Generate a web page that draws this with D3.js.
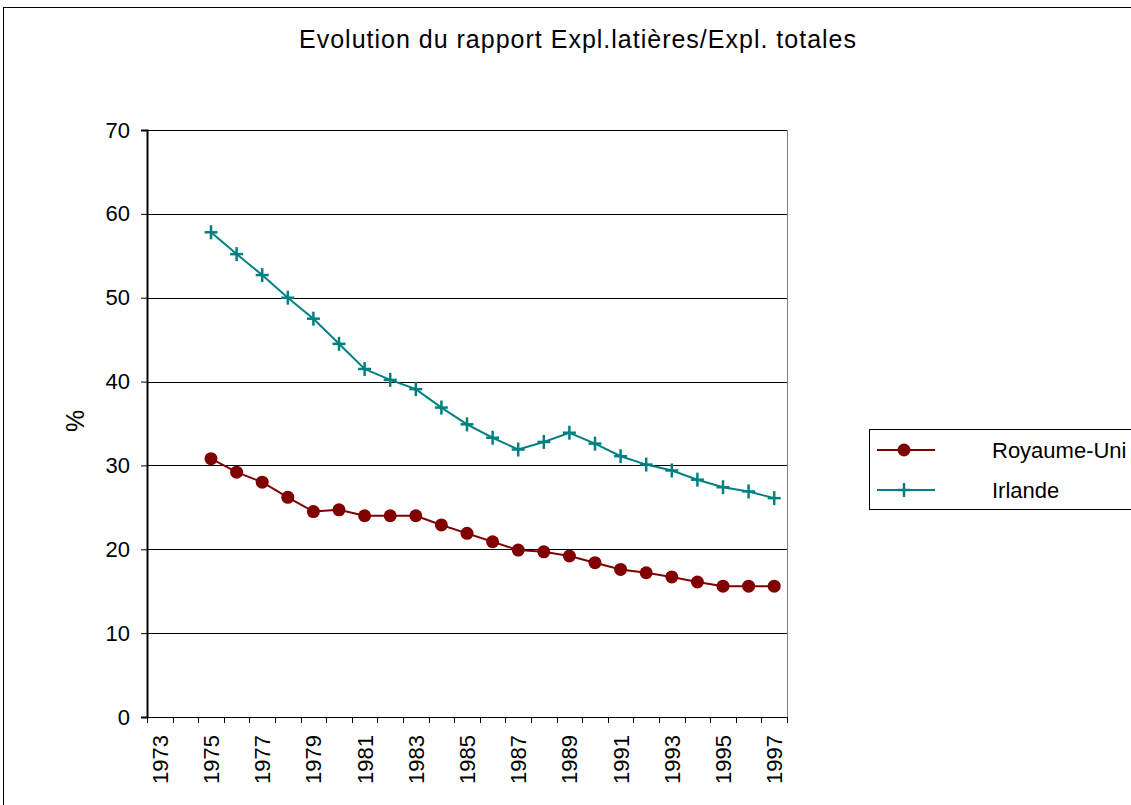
<!DOCTYPE html>
<html>
<head>
<meta charset="utf-8">
<style>
body { margin: 0; background: #fff; }
svg { font-family: "Liberation Sans", Arial, sans-serif; }
.grid line { stroke: #000; stroke-width: 1; }
</style>
</head>
<body>
<svg width="1131" height="805"></svg>
<script src="https://d3js.org/d3.v7.min.js"></script>
<script>

// data
var years = d3.range(1973, 1998);
var dataYears = d3.range(1975, 1998);
var royaumeUni = [30.8, 29.2, 28.0, 26.2, 24.5, 24.7, 24.0, 24.0, 24.0, 22.9, 21.9,
                  20.9, 19.9, 19.7, 19.2, 18.4, 17.6, 17.2, 16.7, 16.1, 15.6, 15.6, 15.6];
var irlande = [57.8, 55.2, 52.7, 50.0, 47.5, 44.5, 41.5, 40.2, 39.1, 36.9, 34.9,
               33.3, 31.9, 32.8, 33.9, 32.6, 31.1, 30.1, 29.4, 28.3, 27.4, 26.9, 26.1];
var yTicks = [0, 10, 20, 30, 40, 50, 60, 70];
var seriesNames = ["Royaume-Uni", "Irlande"];

var svg = d3.select("svg"),
    margin = {top: 130, left: 147, right: 344, bottom: 88},
    width = 1131 - margin.left - margin.right,
    height = 805 - margin.top - margin.bottom;

// outer chart border
svg.append("rect")
  .attr("x", 3.5).attr("y", 7.5)
  .attr("width", 1140).attr("height", 820)
  .attr("fill", "none").attr("stroke", "#000").attr("stroke-width", 1);

svg.append("text")
  .attr("x", 578).attr("y", 48)
  .attr("text-anchor", "middle")
  .attr("font-size", 25)
  .attr("letter-spacing", 1)
  .text("Evolution du rapport Expl.latières/Expl. totales");

var x = d3.scaleBand().domain(years).range([0, width]);
var y = d3.scaleLinear().domain([0, 70]).range([height, 0]);

var g = svg.append("g")
  .attr("transform", "translate(" + margin.left + "," + margin.top + ")");

// gridlines
g.append("g").attr("class", "grid")
  .selectAll("line")
  .data(yTicks.filter(function(d) { return d > 0; }))
  .enter().append("line")
  .attr("x1", 0).attr("x2", width)
  .attr("y1", function(d) { return Math.round(y(d)) + 0.5; })
  .attr("y2", function(d) { return Math.round(y(d)) + 0.5; });

// right border of plot
g.append("line")
  .attr("x1", width + 0.5).attr("x2", width + 0.5)
  .attr("y1", 0).attr("y2", height)
  .attr("stroke", "#808080");

// y axis
var gy = g.append("g")
  .call(d3.axisLeft(y).tickValues(yTicks).tickSize(6).tickPadding(11));
gy.select(".domain").attr("stroke-width", 2);
gy.selectAll("text").attr("font-size", 22).attr("font-family", "Liberation Sans, Arial, sans-serif").attr("fill", "#000");

// x axis: ticks on band boundaries, labels on odd years
var gx = g.append("g").attr("transform", "translate(0," + height + ")");
gx.append("line")
  .attr("x1", 0).attr("x2", width).attr("y1", 0.5).attr("y2", 0.5)
  .attr("stroke", "#000");
gx.selectAll(".tk")
  .data(years.concat([1998]))
  .enter().append("line")
  .attr("x1", function(d) { return Math.round(d === 1998 ? width : x(d)) + 0.5; })
  .attr("x2", function(d) { return Math.round(d === 1998 ? width : x(d)) + 0.5; })
  .attr("y1", 0).attr("y2", 6)
  .attr("stroke", "#000");
gx.selectAll(".lbl")
  .data(years.filter(function(d) { return d % 2 === 1; }))
  .enter().append("text")
  .attr("transform", function(d) {
    return "translate(" + (x(d) + x.bandwidth() / 2 + 8) + ",18) rotate(-90)";
  })
  .attr("text-anchor", "end")
  .attr("font-size", 22)
  .text(function(d) { return d; });

// y axis title
svg.append("text")
  .attr("transform", "translate(84,421) rotate(-90)")
  .attr("text-anchor", "middle")
  .attr("font-size", 25)
  .text("%");

var line = d3.line()
  .x(function(d, i) { return x(dataYears[i]) + x.bandwidth() / 2; })
  .y(function(d) { return y(d); });

function plus(sel, color) {
  sel.append("line").attr("x1", -6.5).attr("x2", 6.5).attr("y1", 0).attr("y2", 0)
    .attr("stroke", color).attr("stroke-width", 2.5);
  sel.append("line").attr("x1", 0).attr("x2", 0).attr("y1", -7).attr("y2", 7)
    .attr("stroke", color).attr("stroke-width", 2.5);
}

// Irlande
g.append("path").datum(irlande)
  .attr("d", line).attr("fill", "none")
  .attr("stroke", "#008080").attr("stroke-width", 2);
g.selectAll(".irl").data(irlande).enter().append("g")
  .attr("transform", function(d, i) {
    return "translate(" + (x(dataYears[i]) + x.bandwidth() / 2) + "," + y(d) + ")";
  })
  .call(plus, "#008080");

// Royaume-Uni
g.append("path").datum(royaumeUni)
  .attr("d", line).attr("fill", "none")
  .attr("stroke", "#800000").attr("stroke-width", 2);
g.selectAll(".ru").data(royaumeUni).enter().append("circle")
  .attr("cx", function(d, i) { return x(dataYears[i]) + x.bandwidth() / 2; })
  .attr("cy", function(d) { return y(d); })
  .attr("r", 6.5)
  .attr("fill", "#800000");

// legend
var lg = svg.append("g");
lg.append("rect")
  .attr("x", 869.5).attr("y", 429.5).attr("width", 300).attr("height", 80)
  .attr("fill", "#fff").attr("stroke", "#000");
var colors = ["#800000", "#008080"];
seriesNames.forEach(function(name, i) {
  var ly = 450 + i * 40;
  lg.append("line").attr("x1", 877).attr("x2", 935).attr("y1", ly).attr("y2", ly)
    .attr("stroke", colors[i]).attr("stroke-width", 2);
  var m = lg.append("g").attr("transform", "translate(904," + ly + ")");
  if (i === 0) m.append("circle").attr("r", 6.5).attr("fill", colors[i]);
  else plus(m, colors[i]);
  lg.append("text").attr("x", 992).attr("y", ly + 8)
    .attr("font-size", 22).text(name);
});

</script>
</body>
</html>
